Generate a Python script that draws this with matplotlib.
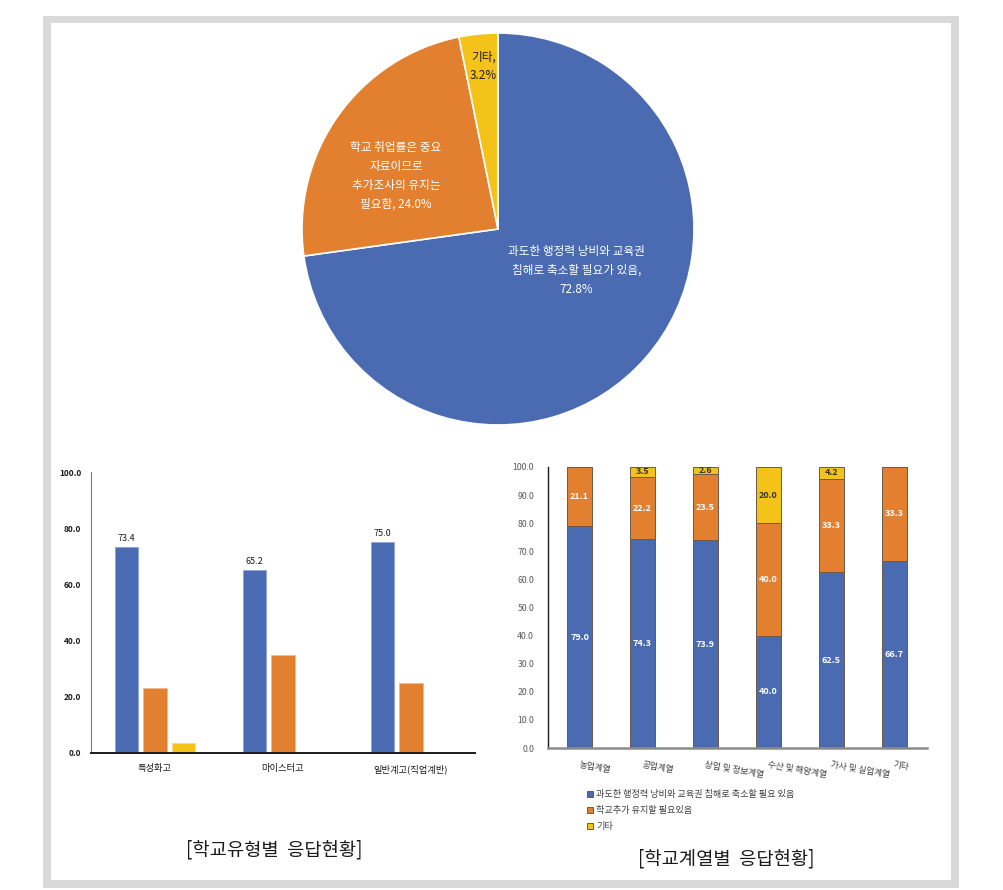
import matplotlib
matplotlib.use("Agg")
import matplotlib.pyplot as plt
from matplotlib.patches import Rectangle
import numpy as np

plt.rcParams['font.family'] = ['Noto Sans CJK KR', 'DejaVu Sans']

# ---------------- data ----------------
pie_labels = ["과도한 행정력 낭비와 교육권\n침해로 축소할 필요가 있음,\n72.8%",
              "학교 취업률은 중요\n자료이므로\n추가조사의 유지는\n필요함, 24.0%",
              "기타,\n3.2%"]
pie_values = [72.8, 24.0, 3.2]

type_categories = ["특성화고", "마이스터고", "일반계고(직업계반)"]
type_reduce = [73.4, 65.2, 75.0]
type_keep = [23.2, 34.8, 25.0]
type_other = [3.4, 0.0, 0.0]

field_categories = ["농업계열", "공업계열", "상업 및 정보계열", "수산 및 해양계열", "가사 및 실업계열", "기타"]
field_reduce = [79.0, 74.3, 73.9, 40.0, 62.5, 66.7]
field_keep = [21.1, 22.2, 23.5, 40.0, 33.3, 33.3]
field_other = [0.0, 3.5, 2.6, 20.0, 4.2, 0.0]
legend_labels = ["과도한 행정력 낭비와 교육권 침해로 축소할 필요 있음", "학교추가 유지할 필요있음", "기타"]

caption_left = "[학교유형별  응답현황]"
caption_right = "[학교계열별  응답현황]"

BLUE = "#4A6BB1"
ORANGE = "#E3802F"
YELLOW = "#F4C319"

W, H = 1004, 890
fig = plt.figure(figsize=(W / 100, H / 100), dpi=100)
fig.patch.set_facecolor("white")

def fx(x):
    return x / W

def fy(y):
    return 1 - y / H

# frame
fig.patches.append(Rectangle((fx(43), fy(888)), fx(959) - fx(43), fy(16) - fy(888),
                             transform=fig.transFigure, facecolor="#d9d9d9", edgecolor="none", zorder=-10))
fig.patches.append(Rectangle((fx(51), fy(880)), fx(951) - fx(51), fy(23) - fy(880),
                             transform=fig.transFigure, facecolor="white", edgecolor="none", zorder=-9))

# ---------------- pie ----------------
cx, cy, r = 498, 229, 196
axp = fig.add_axes([fx(cx - r), fy(cy + r), 2 * r / W, 2 * r / H])
axp.patch.set_alpha(0)
wedges, _ = axp.pie(pie_values, colors=[BLUE, ORANGE, YELLOW], startangle=90, counterclock=False,
                    radius=1.0, wedgeprops=dict(edgecolor="white", linewidth=1.2))
axp.set_xlim(-1, 1)
axp.set_ylim(-1, 1)
axp.set_aspect("equal")
axp.axis("off")
label_pos = [(0.40, -0.21), (-0.52, 0.27), (-0.075, 0.83)]
label_col = ["white", "white", "#1a1a1a"]
for (lx, ly), txt, c in zip(label_pos, pie_labels, label_col):
    axp.text(lx, ly, txt, ha="center", va="center", color=c, fontsize=8.4, linespacing=1.6)

# ---------------- left bar chart ----------------
axl = fig.add_axes([fx(91), fy(753), (475 - 91) / W, (753 - 472) / H])
axl.patch.set_alpha(0)
x = np.arange(len(type_categories))
bw = 0.18
off = 0.225
axl.bar(x - off, type_reduce, bw, color=BLUE, edgecolor="#8ea6d6", linewidth=0.6)
axl.bar(x, type_keep, bw, color=ORANGE, edgecolor="#f0b98c", linewidth=0.6)
axl.bar(x + off, type_other, bw, color=YELLOW, edgecolor="#f8dc84", linewidth=0.6)
for xi, v in zip(x, type_reduce):
    axl.text(xi - off, v + 1.5, f"{v:.1f}", ha="center", va="bottom", fontsize=6.5, color="#1a1a1a")
axl.set_xlim(-0.5, 2.5)
axl.set_ylim(0, 100)
axl.set_yticks(np.arange(0, 101, 20))
axl.set_yticklabels([f"{v:.1f}" for v in np.arange(0, 101, 20)], fontsize=6, color="#1a1a1a", fontweight="bold")
axl.set_xticks(x)
axl.set_xticklabels(type_categories, fontsize=6.7, color="#1a1a1a")
axl.tick_params(axis="both", length=0, pad=7)
axl.tick_params(axis="x", pad=8)
for s in ["top", "right"]:
    axl.spines[s].set_visible(False)
axl.spines["left"].set_color("#7f7f7f")
axl.spines["left"].set_linewidth(0.8)
axl.spines["bottom"].set_color("#1a1a1a")
axl.spines["bottom"].set_linewidth(1.4)

# ---------------- right stacked chart ----------------
axr = fig.add_axes([fx(548), fy(748), (927 - 548) / W, (748 - 467) / H])
axr.patch.set_alpha(0)
xr = np.arange(len(field_categories))
bwr = 0.4
reduce_a = np.array(field_reduce)
keep_a = np.array(field_keep)
other_a = np.array(field_other)
ec = "#6b5a4a"
axr.bar(xr, reduce_a, bwr, color=BLUE, edgecolor=ec, linewidth=0.7, label=legend_labels[0])
axr.bar(xr, keep_a, bwr, bottom=reduce_a, color=ORANGE, edgecolor=ec, linewidth=0.7, label=legend_labels[1])
axr.bar(xr, other_a, bwr, bottom=reduce_a + keep_a, color=YELLOW, edgecolor=ec, linewidth=0.7, label=legend_labels[2])
for xi, a, b, c in zip(xr, reduce_a, keep_a, other_a):
    axr.text(xi, a / 2, f"{a:.1f}", ha="center", va="center", fontsize=6.5, color="white", fontweight="bold")
    axr.text(xi, a + b / 2, f"{b:.1f}", ha="center", va="center", fontsize=6.5, color="white", fontweight="bold")
    if c > 0:
        axr.text(xi, a + b + c / 2, f"{c:.1f}", ha="center", va="center", fontsize=6.5, color="#333333", fontweight="bold")
axr.set_xlim(-0.5, 5.52)
axr.set_ylim(0, 100)
axr.set_yticks(np.arange(0, 101, 10))
axr.set_yticklabels([f"{v:.1f}" for v in np.arange(0, 101, 10)], fontsize=6.3, color="#595959")
axr.set_xticks(xr)
axr.set_xticklabels(field_categories, fontsize=6.3, color="#404040", rotation=-10, ha="left",
                    rotation_mode="anchor", style="italic")
axr.tick_params(axis="both", length=0)
axr.tick_params(axis="y", pad=10)
axr.tick_params(axis="x", pad=9)
for s in ["top", "right"]:
    axr.spines[s].set_visible(False)
axr.spines["left"].set_color("#1a1a1a")
axr.spines["left"].set_linewidth(1.0)
axr.spines["bottom"].set_color("#8c8c8c")
axr.spines["bottom"].set_linewidth(1.8)
leg = axr.legend(loc="upper left", bbox_to_anchor=(fx(587), fy(790)), bbox_transform=fig.transFigure,
                 frameon=False, fontsize=6.6, handlelength=0.6, handleheight=0.6, handletextpad=0.4,
                 labelspacing=0.75, borderpad=0, borderaxespad=0)
for t in leg.get_texts():
    t.set_color("#404040")

# captions
fig.text(fx(274), fy(850), caption_left, ha="center", va="center", fontsize=13.5, color="#1a1a1a")
fig.text(fx(726), fy(859), caption_right, ha="center", va="center", fontsize=13.5, color="#1a1a1a")

fig.savefig("out.png", dpi=100)
